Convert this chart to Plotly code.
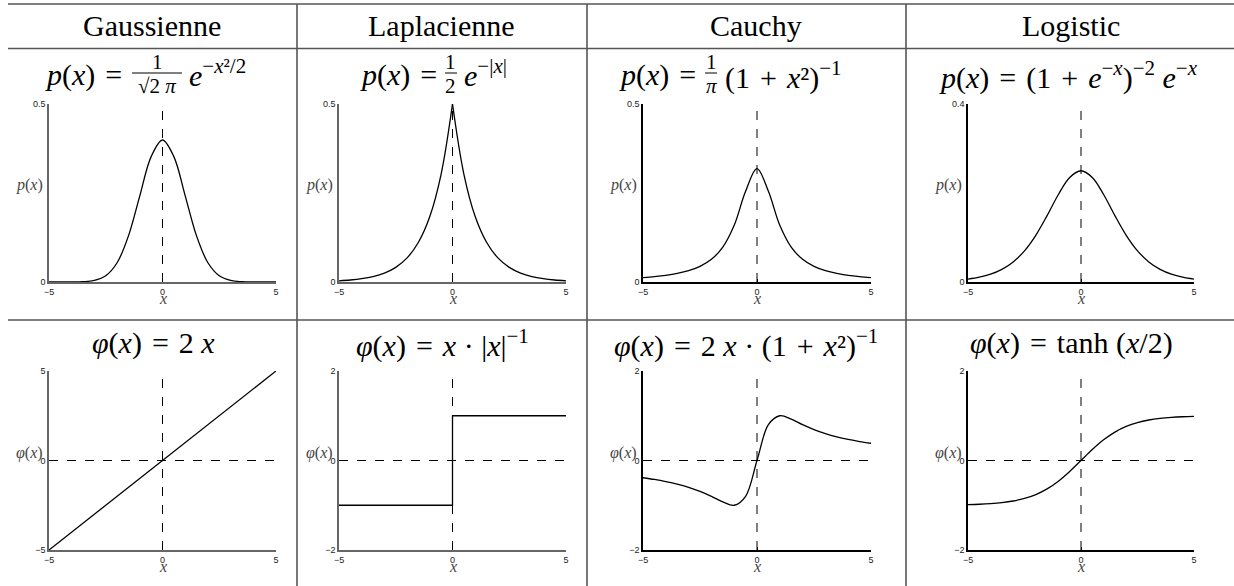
import plotly.graph_objects as go

W, H = 1234, 586

# abscisses communes
x_grid = [-5, -4.5, -4, -3.5, -3, -2.5, -2, -1.5, -1, -0.5, 0,
          0.5, 1, 1.5, 2, 2.5, 3, 3.5, 4, 4.5, 5]

# densites p(x)
gauss_p = [0.0, 0.0, 0.0001, 0.0009, 0.0044, 0.0175, 0.054, 0.1295, 0.242, 0.3521, 0.3989,
           0.3521, 0.242, 0.1295, 0.054, 0.0175, 0.0044, 0.0009, 0.0001, 0.0, 0.0]
laplace_p = [0.0034, 0.0056, 0.0092, 0.0151, 0.0249, 0.041, 0.0677, 0.1116, 0.1839, 0.3033, 0.5,
             0.3033, 0.1839, 0.1116, 0.0677, 0.041, 0.0249, 0.0151, 0.0092, 0.0056, 0.0034]
cauchy_p = [0.0122, 0.015, 0.0187, 0.024, 0.0318, 0.0439, 0.0637, 0.0979, 0.1592, 0.2546, 0.3183,
            0.2546, 0.1592, 0.0979, 0.0637, 0.0439, 0.0318, 0.024, 0.0187, 0.015, 0.0122]
logistic_p = [0.0066, 0.0109, 0.0177, 0.0285, 0.0452, 0.0701, 0.105, 0.1491, 0.1966, 0.235, 0.25,
              0.235, 0.1966, 0.1491, 0.105, 0.0701, 0.0452, 0.0285, 0.0177, 0.0109, 0.0066]

# fonctions score phi(x)
gauss_phi_x = [-5, 0, 5]
gauss_phi = [-5, 0, 5]
laplace_phi_x = [-5, 0, 0, 5]
laplace_phi = [-1, -1, 1, 1]
cauchy_phi = [-0.385, -0.424, -0.471, -0.528, -0.6, -0.69, -0.8, -0.923, -1.0, -0.8, 0,
              0.8, 1.0, 0.923, 0.8, 0.69, 0.6, 0.528, 0.471, 0.424, 0.385]
logistic_phi = [-0.9866, -0.978, -0.964, -0.9414, -0.9051, -0.8483, -0.7616, -0.6351, -0.4621, -0.2449, 0,
                0.2449, 0.4621, 0.6351, 0.7616, 0.8483, 0.9051, 0.9414, 0.964, 0.978, 0.9866]

titres = ["Gaussienne", "Laplacienne", "Cauchy", "Logistic"]
y_max_p = [0.5, 0.5, 0.5, 0.4]
y_max_phi = [5, 2, 2, 2]

# geometrie en pixels
col_x = [(49, 276), (339, 566), (643, 871), (968, 1194)]
row_y = [(104, 282), (371, 550)]  # (haut, bas)
col_centres = [152, 441, 756, 1071]
axe_couleur = ["#666666", "#666666", "#000000", "#000000"]

SERIF = "Liberation Serif, Times New Roman, serif"
SANS = "Liberation Sans, Arial, sans-serif"
SP = "\u2004"  # espace autour de = et +


def px(x):
    return x / W


def py(y):
    return 1 - y / H


fig = go.Figure()


def ref(k):
    return ("x", "y") if k == 1 else (f"x{k}", f"y{k}")


def trace(k, xs, ys, shape="spline"):
    xr, yr = ref(k)
    fig.add_trace(go.Scatter(x=xs, y=ys, mode="lines", xaxis=xr, yaxis=yr,
                             line=dict(color="black", width=1.3, shape=shape),
                             showlegend=False, hoverinfo="skip"))


# ligne 1 : densites
trace(1, x_grid, gauss_p)
trace(2, x_grid[:11], laplace_p[:11])
trace(2, x_grid[10:], laplace_p[10:])
trace(3, x_grid, cauchy_p)
trace(4, x_grid, logistic_p)
# ligne 2 : phi
trace(5, gauss_phi_x, gauss_phi, "linear")
trace(6, laplace_phi_x, laplace_phi, "linear")
trace(7, x_grid, cauchy_phi)
trace(8, x_grid, logistic_phi)

layout = {}
shapes = []
annotations = []


def fmt(v):
    s = f"{v:g}"
    return s.replace("-", "\u2212")


for r in range(2):
    for c in range(4):
        k = r * 4 + c + 1
        xr, yr = ref(k)
        x0, x1 = col_x[c]
        yt, yb = row_y[r]
        col = axe_couleur[c]
        commun = dict(showline=True, linecolor=col, linewidth=1.6, ticks="inside", ticklen=3,
                      tickcolor=col, tickwidth=1, showgrid=False, zeroline=False,
                      tickfont=dict(family=SANS, size=9, color="#222"), fixedrange=True)
        if r == 0:
            ymin, ymax = 0, y_max_p[c]
            yticks = [0, ymax]
        else:
            ymin, ymax = -y_max_phi[c], y_max_phi[c]
            yticks = [ymin, 0, ymax]
        xname = "xaxis" if k == 1 else f"xaxis{k}"
        yname = "yaxis" if k == 1 else f"yaxis{k}"
        layout[xname] = dict(commun, domain=[px(x0), px(x1)], anchor=yr, range=[-5, 5],
                             tickvals=[-5, 0, 5], ticktext=[fmt(v) for v in [-5, 0, 5]])
        layout[yname] = dict(commun, domain=[py(yb), py(yt)], anchor=xr, range=[ymin, ymax],
                             tickvals=yticks, ticktext=[fmt(v) for v in yticks])
        # axe vertical pointille en x = 0
        shapes.append(dict(type="line", xref=xr, yref=f"{yr} domain", x0=0, x1=0, y0=0, y1=1,
                           line=dict(color="black", width=1, dash="dash")))
        if r == 1:
            shapes.append(dict(type="line", xref=f"{xr} domain", yref=yr, x0=0, x1=1, y0=0, y1=0,
                               line=dict(color="black", width=1, dash="dash")))
        # etiquettes d'axes
        lab = "<i>p</i>(<i>x</i>)" if r == 0 else "<i>\u03c6</i>(<i>x</i>)"
        annotations.append(dict(text=lab, xref="paper", yref="paper", x=px(x0 - 4),
                                y=py((yb + yt) / 2 - 8), xanchor="right", yanchor="middle",
                                showarrow=False, font=dict(family=SERIF, size=16, color="#444")))
        annotations.append(dict(text="<i>x</i>", xref="paper", yref="paper", x=px((x0 + x1) / 2),
                                y=py(yb + 16), xanchor="center", yanchor="middle",
                                showarrow=False, font=dict(family=SERIF, size=16, color="#444")))

# quadrillage du tableau
for yy in [4, 48.5, 320]:
    shapes.append(dict(type="line", xref="paper", yref="paper", x0=px(8), x1=1, y0=py(yy), y1=py(yy),
                       line=dict(color="#555", width=1.6)))
for xx in [297, 587, 906]:
    shapes.append(dict(type="line", xref="paper", yref="paper", x0=px(xx), x1=px(xx), y0=py(4), y1=0,
                       line=dict(color="#555", width=1.6)))


def texte(t, x, y, anchor="center", size=30):
    annotations.append(dict(text=t, xref="paper", yref="paper", x=px(x), y=py(y), xanchor=anchor,
                            yanchor="middle", showarrow=False,
                            font=dict(family=SERIF, size=size, color="black")))


for c in range(4):
    texte(titres[c], col_centres[c], 26)


def fraction(num, den, xc, yc, demi):
    texte(num, xc, yc - 11, size=21)
    texte(den, xc, yc + 13, size=21)
    shapes.append(dict(type="line", xref="paper", yref="paper", x0=px(xc - demi), x1=px(xc + demi),
                       y0=py(yc), y1=py(yc), line=dict(color="black", width=1)))


P = "<i>p</i>(<i>x</i>)" + SP + "="
PHI = "<i>\u03c6</i>(<i>x</i>)" + SP + "=" + SP
PLUS = SP + "+" + SP

# formules, ligne 1
texte(P, 124, 75, "right")
fraction("1", "\u221a2 <i>\u03c0</i>", 157, 73, 25)
texte("<i>e</i><sup>\u2212<i>x</i>\u00b2/2</sup>", 187, 73, "left")

texte(P, 439, 75, "right")
fraction("1", "2", 451, 73, 6)
texte("<i>e</i><sup>\u2212|<i>x</i>|</sup>", 462, 73, "left")

texte(P, 698, 75, "right")
fraction("1", "<i>\u03c0</i>", 711, 73, 6)
texte("(1" + PLUS + "<i>x</i>\u00b2)<sup>\u22121</sup>", 723, 75, "left")

texte(P + SP + "(1" + PLUS + "<i>e</i><sup>\u2212<i>x</i></sup>)<sup>\u22122</sup> "
      "<i>e</i><sup>\u2212<i>x</i></sup>", 1068, 75)

# formules, ligne 2
texte(PHI + "2 <i>x</i>", 153, 343)
texte(PHI + "<i>x</i> \u00b7 |<i>x</i>|<sup>\u22121</sup>", 442, 343)
texte(PHI + "2 <i>x</i> \u00b7 (1" + PLUS + "<i>x</i>\u00b2)<sup>\u22121</sup>", 746, 343)
texte(PHI + "tanh (<i>x</i>/2)", 1071, 343)

fig.update_layout(
    width=W,
    height=H,
    margin=dict(l=0, r=0, t=0, b=0, autoexpand=False),
    paper_bgcolor="white",
    plot_bgcolor="white",
    showlegend=False,
    shapes=shapes,
    annotations=annotations,
    **layout,
)

fig.write_html("out.html", config={"displayModeBar": False},
               post_script="document.body.style.margin = '0';")
